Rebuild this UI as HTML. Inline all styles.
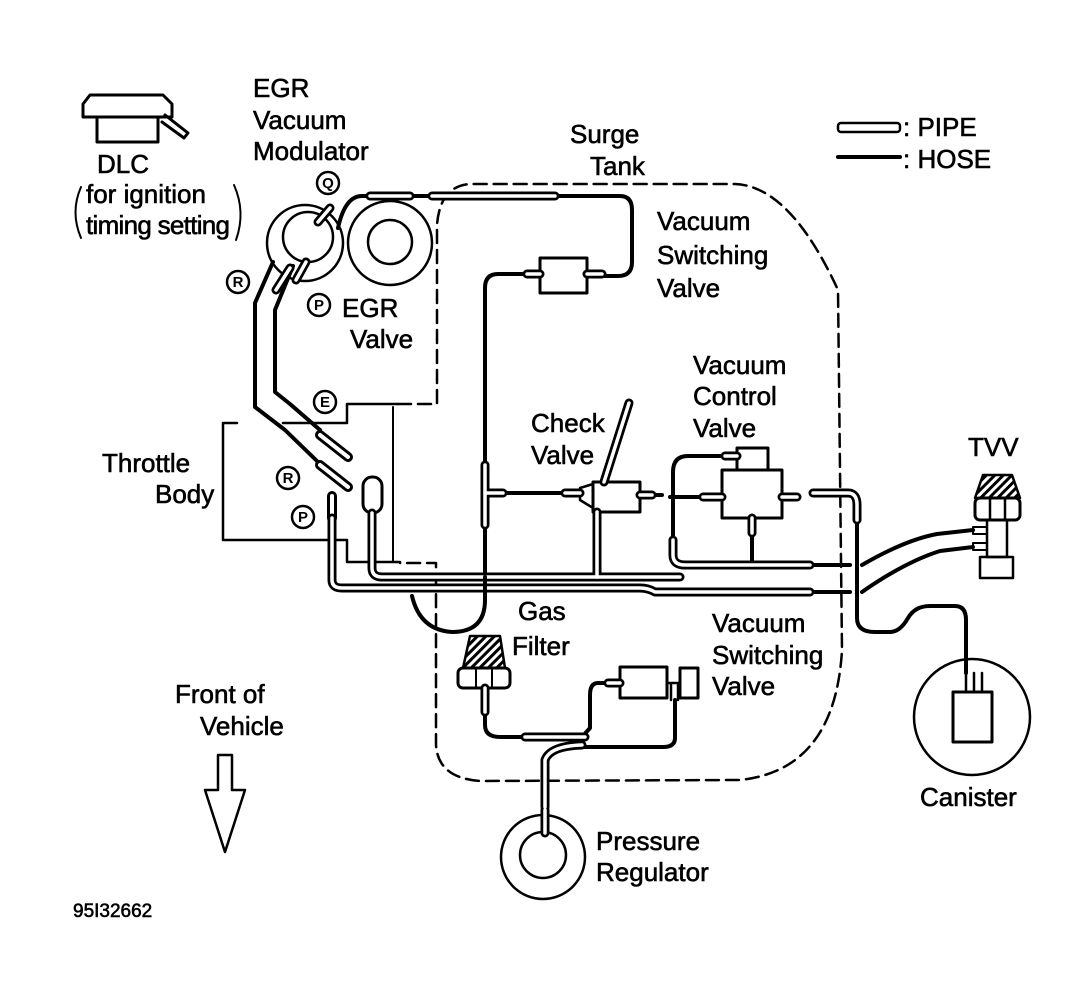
<!DOCTYPE html>
<html><head><meta charset="utf-8"><style>
html,body{margin:0;padding:0;background:#fff;}
svg{display:block;}
text{font-family:"Liberation Sans",sans-serif;font-size:26px;fill:#000;stroke:#000;stroke-width:0.6px;}
.c{font-size:15px;font-weight:bold;text-anchor:middle;stroke-width:0;}
</style></head><body>
<svg width="1070" height="988" viewBox="0 0 1070 988" xmlns="http://www.w3.org/2000/svg">
<defs>
<pattern id="hat" width="6" height="6" patternUnits="userSpaceOnUse" patternTransform="rotate(45)">
<rect width="6" height="6" fill="#fff"/><rect width="3" height="6" fill="#000"/></pattern>
</defs>
<g fill="none" stroke="#000" stroke-linecap="round" stroke-linejoin="round">
<path d="M90 95 L163 95 L172 104 L172 117 L83 117 L83 104 Z" stroke-width="3"/>
<rect x="97" y="117" width="61" height="25" stroke-width="3"/>
<path d="M165 115 L188 133 L184 138 L162 122" stroke-width="3"/>
<path d="M81 187 Q70 212 81 238" stroke-width="2"/>
<path d="M234 185 Q246 212 236 240" stroke-width="2"/>
<path d="M398 404 L437 404 L437 225 Q440 186 470 184 L735 184 Q790 186 838 290 L842 650 Q835 770 740 780 L480 781 Q438 778 436 745 L436 563 L400 563" stroke-width="2.5" stroke-dasharray="13 7"/>
<circle cx="305" cy="243" r="38" stroke-width="2.5"/>
<circle cx="308" cy="237" r="25" stroke-width="2.5"/>
<circle cx="390" cy="243" r="42" stroke-width="2.5"/>
<circle cx="390" cy="242" r="22" stroke-width="2.5"/>
<path d="M237 423 L223 423 L223 540 L347 540 L347 562 L400 562" stroke-width="2.5"/>
<path d="M283 423 L347 423 L347 404 L398 404" stroke-width="2.5"/>
<path d="M393 407 L393 562" stroke-width="2"/>
<path d="M273 262 L255 303 L255 407 L285 430 L318 462" stroke-width="4"/>
<path d="M293 266 L275 310 L275 392 L290 404 L320 430" stroke-width="4"/>
<g stroke-width="10"><path d="M320 435 L348 457"/><path d="M320 465 L348 487"/><path d="M332 496 L332 518"/></g>
<g stroke="#fff" stroke-width="4"><path d="M320 435 L348 457"/><path d="M320 465 L348 487"/><path d="M332 496 L332 518"/></g>
<rect x="363" y="477" width="19" height="36" rx="9" stroke-width="3" fill="#fff"/>
<path d="M338 228 Q345 196 362 196 L372 196" stroke-width="4"/>
<path d="M410 196 L432 196" stroke-width="4"/>
<path d="M555 196 L620 196 Q632 196 632 210 L632 262 Q632 276 618 276 L602 276" stroke-width="4"/>
<path d="M527 274 L498 274 Q485 274 485 288 L485 600 Q485 632 452 632 Q420 630 412 596" stroke-width="4"/>
<rect x="540" y="258" width="47" height="35" stroke-width="3"/>
<path d="M503 493 L565 493" stroke-width="4"/>
<path d="M580 488 L593 484 L593 508 L580 500 Z" stroke-width="2.5"/>
<rect x="593" y="482" width="47" height="30" stroke-width="3"/>
<path d="M652 495 L662 495" stroke-width="4"/>
<path d="M670 497 L703 497" stroke-width="4"/>
<rect x="722" y="470" width="60" height="48" stroke-width="3"/>
<rect x="737" y="448" width="31" height="22" stroke-width="3"/>
<path d="M725 456 L688 456 Q673 456 673 472 L673 555 Q673 565 685 565 L810 565" stroke-width="4"/>
<path d="M752 533 L752 563" stroke-width="4"/>
<path d="M850 565 L810 565" stroke-width="4"/>
<path d="M810 592 L850 592" stroke-width="4"/>
<path d="M857 520 L857 618 Q857 632 875 632 L890 632 Q900 632 908 618 Q915 606 930 606 L955 606 Q966 606 966 620 L966 673" stroke-width="4"/>
<circle cx="972" cy="717" r="58" stroke-width="2.5"/>
<rect x="953" y="692" width="39" height="50" stroke-width="3"/>
<path d="M966 673 L966 692 M974 673 L974 692 M982 673 L982 692" stroke-width="2.5"/>
<path d="M862 565 Q905 540 937 534 L973 530" stroke-width="4"/>
<path d="M862 592 Q905 562 940 551 L973 547" stroke-width="4"/>
<path d="M983 475 L1012 475 L1020 498 L975 498 Z" fill="url(#hat)" stroke-width="2.5"/>
<rect x="975" y="498" width="45" height="22" rx="5" stroke-width="3"/>
<path d="M990 498 L990 520 M1005 498 L1005 520" stroke-width="2.5"/>
<rect x="987" y="520" width="20" height="37" stroke-width="2.5"/>
<rect x="973" y="527" width="14" height="7" stroke-width="2"/>
<rect x="973" y="543" width="14" height="7" stroke-width="2"/>
<rect x="980" y="557" width="33" height="21" stroke-width="2.5"/>
<path d="M470 636 L500 636 L505 668 L463 668 Z" fill="url(#hat)" stroke-width="2.5"/>
<rect x="458" y="668" width="52" height="20" rx="5" stroke-width="3"/>
<path d="M476 668 L476 688 M492 668 L492 688" stroke-width="2"/>
<path d="M485 712 L485 725 Q485 737 500 737 L525 737" stroke-width="4"/>
<path d="M610 683 L598 683 Q590 683 590 695 L590 728 L582 737" stroke-width="4"/>
<path d="M675 700 L675 738 Q675 747 663 747 L583 747" stroke-width="4"/>
<rect x="620" y="667" width="47" height="31" stroke-width="3"/>
<rect x="680" y="668" width="18" height="30" stroke-width="3"/>
<path d="M667 683 L680 683 M671 685 L671 700 M678 685 L678 700" stroke-width="2.5"/>
<circle cx="543" cy="857" r="42" stroke-width="2.5"/>
<circle cx="543" cy="855" r="23" stroke-width="2.5"/>
<g stroke-width="9">
<path d="M372 513 L372 568 Q372 577 382 577 L680 577"/>
<path d="M332 518 L332 580 Q332 588 342 588 L640 588 Q648 588 655 592 L810 592"/>
<path d="M673 540 L673 555 Q673 565 685 565 L810 565"/>
<path d="M813 493 L848 493 Q857 493 857 505 L857 520"/>
<path d="M370 196 L410 196"/><path d="M432 196 L555 196"/>
<path d="M485 465 L485 525"/><path d="M485 493 L503 493"/>
<path d="M597 512 L597 577"/><path d="M604 482 L629 403"/>
<path d="M527 274 L540 274"/><path d="M587 274 L602 274"/>
<path d="M565 493 L580 493"/><path d="M640 495 L652 495"/>
<path d="M703 497 L722 497"/><path d="M782 497 L797 497"/><path d="M725 456 L737 456"/>
<path d="M752 518 L752 533"/>
<path d="M485 688 L485 712"/><path d="M525 737 L585 737"/>
<path d="M582 745 Q550 746 545 760 L545 807"/>
<path d="M545 810 L545 833"/><path d="M608 683 L620 683"/>
<path d="M290 268 L276 290"/><path d="M306 262 L296 280"/><path d="M318 222 L330 208"/>
</g>
<g stroke="#fff" stroke-width="3.5">
<path d="M372 513 L372 568 Q372 577 382 577 L680 577"/>
<path d="M332 518 L332 580 Q332 588 342 588 L640 588 Q648 588 655 592 L810 592"/>
<path d="M673 540 L673 555 Q673 565 685 565 L810 565"/>
<path d="M813 493 L848 493 Q857 493 857 505 L857 520"/>
<path d="M370 196 L410 196"/><path d="M432 196 L555 196"/>
<path d="M485 465 L485 525"/><path d="M485 493 L503 493"/>
<path d="M597 512 L597 577"/><path d="M604 482 L629 403"/>
<path d="M527 274 L540 274"/><path d="M587 274 L602 274"/>
<path d="M565 493 L580 493"/><path d="M640 495 L652 495"/>
<path d="M703 497 L722 497"/><path d="M782 497 L797 497"/><path d="M725 456 L737 456"/>
<path d="M752 518 L752 533"/>
<path d="M485 688 L485 712"/><path d="M525 737 L585 737"/>
<path d="M582 745 Q550 746 545 760 L545 807"/>
<path d="M545 810 L545 833"/><path d="M608 683 L620 683"/>
<path d="M290 268 L276 290"/><path d="M306 262 L296 280"/><path d="M318 222 L330 208"/>
</g>
<path d="M485 600 L485 577" stroke-width="4"/>
<rect x="838" y="123" width="62" height="9" rx="3" stroke-width="2.5"/>
<path d="M838 157 L900 157" stroke-width="4"/>
<path d="M218 755 L232 755 L232 790 L245 790 L225 852 L205 790 L218 790 Z" stroke-width="2.5"/>
<g stroke-width="2.5"><circle cx="328" cy="183" r="11"/><circle cx="238" cy="282" r="11"/><circle cx="319" cy="305" r="11"/><circle cx="325" cy="402" r="11"/><circle cx="288" cy="478" r="11"/><circle cx="303" cy="517" r="11"/></g>
</g>
<text class="c" x="328" y="188">Q</text>
<text class="c" x="238" y="287">R</text>
<text class="c" x="319" y="310">P</text>
<text class="c" x="325" y="407">E</text>
<text class="c" x="288" y="483">R</text>
<text class="c" x="303" y="522">P</text>
<text x="253" y="97">EGR</text>
<text x="253" y="129">Vacuum</text>
<text x="253" y="160">Modulator</text>
<text x="97" y="173">DLC</text>
<text x="86" y="203">for ignition</text>
<text x="86" y="234" textLength="144">timing setting</text>
<text x="342" y="317">EGR</text>
<text x="350" y="348">Valve</text>
<text x="570" y="143">Surge</text>
<text x="590" y="175">Tank</text>
<text x="657" y="230">Vacuum</text>
<text x="657" y="264">Switching</text>
<text x="657" y="297">Valve</text>
<text x="693" y="374">Vacuum</text>
<text x="693" y="405">Control</text>
<text x="693" y="437">Valve</text>
<text x="531" y="432">Check</text>
<text x="531" y="464">Valve</text>
<text x="102" y="472">Throttle</text>
<text x="155" y="503">Body</text>
<text x="968" y="456">TVV</text>
<text x="518" y="620">Gas</text>
<text x="512" y="655">Filter</text>
<text x="712" y="632">Vacuum</text>
<text x="712" y="664">Switching</text>
<text x="712" y="695">Valve</text>
<text x="920" y="806">Canister</text>
<text x="596" y="850">Pressure</text>
<text x="596" y="881">Regulator</text>
<text x="175" y="703">Front of</text>
<text x="200" y="735">Vehicle</text>
<text x="73" y="917" style="font-size:19px">95I32662</text>
<text x="903" y="136">: PIPE</text>
<text x="903" y="168">: HOSE</text>
</svg>
</body></html>
